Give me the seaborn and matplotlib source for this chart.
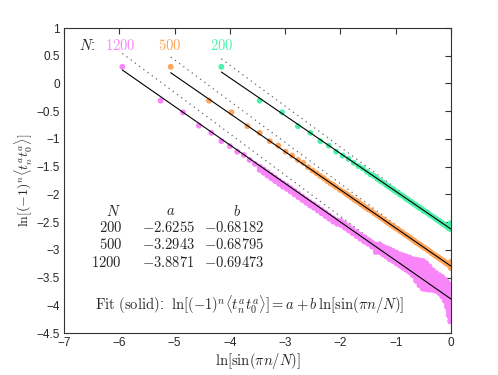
import numpy as np
import matplotlib
matplotlib.use('Agg')
import matplotlib.pyplot as plt
import seaborn as sns
import pandas as pd
from matplotlib.ticker import FuncFormatter, MultipleLocator

# fit coefficients (table in the chart)
sizes = [200, 500, 1200]
fit_a = [-2.6255, -3.2943, -3.8871]
fit_b = [-0.68182, -0.68795, -0.69473]
# slopes of the dotted reference lines (same intercept a)
dot_b = [-0.739, -0.744, -0.745]
colors = ['#4cf2ac', '#ffa458', '#f986f9']

# N = 200 : x = ln[sin(pi n/N)], y = ln[(-1)^n <t_n t_0>]
x_200 = [-4.154, -3.461, -3.055, -2.768, -2.545, -2.363, -2.210, -2.077, -1.960,
         -1.855, -1.761, -1.675, -1.596, -1.523, -1.455, -1.392, -1.332, -1.277,
         -1.224, -1.174, -1.130, -1.083, -1.040, -0.999, -0.960, -0.923, -0.888,
         -0.854, -0.822, -0.790, -0.760, -0.730, -0.702, -0.675, -0.649, -0.624,
         -0.600, -0.576, -0.553, -0.531, -0.500, -0.470, -0.441, -0.414, -0.380,
         -0.347, -0.317, -0.288, -0.261, -0.236, -0.212, -0.190, -0.169, -0.150,
         -0.132, -0.115, -0.097, -0.079, -0.064, -0.050, -0.038, -0.028, -0.020,
         -0.012, -0.007, -0.003, -0.003, -0.010, -0.006, 0.0]
y_200 = [0.30, -0.31, -0.52, -0.77, -0.89, -1.04, -1.12, -1.23, -1.30,
         -1.36, -1.43, -1.49, -1.53, -1.59, -1.64, -1.67, -1.72, -1.76,
         -1.79, -1.83, -1.86, -1.89, -1.92, -1.95, -1.97, -2.00, -2.02,
         -2.04, -2.07, -2.09, -2.11, -2.13, -2.15, -2.17, -2.18, -2.20,
         -2.22, -2.24, -2.25, -2.26, -2.29, -2.31, -2.32, -2.34, -2.37,
         -2.39, -2.41, -2.43, -2.45, -2.47, -2.48, -2.50, -2.51, -2.53,
         -2.54, -2.55, -2.56, -2.57, -2.59, -2.60, -2.60, -2.61, -2.62,
         -2.62, -2.62, -2.62, -2.58, -2.55, -2.52, -2.63]

# N = 500
x_500 = [-5.070, -4.377, -3.971, -3.684, -3.461, -3.278, -3.124, -2.991, -2.873,
         -2.768, -2.673, -2.586, -2.505, -2.432, -2.363, -2.299, -2.238, -2.182,
         -2.128, -2.077, -2.006, -1.938, -1.895, -1.855, -1.800, -1.743, -1.708,
         -1.675, -1.628, -1.581, -1.537, -1.495, -1.443, -1.392, -1.334, -1.277,
         -1.225, -1.174, -1.128, -1.083, -1.040, -0.999, -0.960, -0.923, -0.888,
         -0.854, -0.822, -0.790, -0.760, -0.730, -0.702, -0.675, -0.649, -0.624,
         -0.600, -0.576, -0.553, -0.531, -0.490, -0.450, -0.414, -0.379, -0.347,
         -0.316, -0.288, -0.261, -0.236, -0.212, -0.190, -0.169, -0.150, -0.132,
         -0.115, -0.100, -0.086, -0.073, -0.061, -0.050, -0.036, -0.024, -0.015,
         -0.008, -0.004, -0.002, 0.0]
y_500 = [0.30, -0.31, -0.52, -0.77, -0.89, -1.04, -1.12, -1.23, -1.30,
         -1.38, -1.43, -1.51, -1.57, -1.62, -1.67, -1.71, -1.76, -1.80,
         -1.83, -1.87, -1.92, -1.96, -1.99, -2.02, -2.06, -2.10, -2.12,
         -2.14, -2.18, -2.21, -2.24, -2.27, -2.30, -2.34, -2.38, -2.42,
         -2.45, -2.49, -2.52, -2.55, -2.58, -2.61, -2.63, -2.66, -2.68,
         -2.71, -2.73, -2.75, -2.77, -2.79, -2.81, -2.83, -2.85, -2.87,
         -2.88, -2.90, -2.91, -2.93, -2.96, -2.98, -3.01, -3.03, -3.06,
         -3.08, -3.10, -3.12, -3.13, -3.15, -3.17, -3.18, -3.19, -3.20,
         -3.22, -3.23, -3.24, -3.25, -3.25, -3.26, -3.27, -3.28, -3.28,
         -3.29, -3.22, -3.33, -3.29]

# N = 1200, read as columns (x, all y seen at that x)
x_1200 = [-5.945, -5.252, -4.847, -4.559, -4.336, -4.154, -4.000, -3.866, -3.748,
          -3.643, -3.548,
          -3.46, -3.39, -3.32, -3.25, -3.18, -3.11, -3.04, -2.97, -2.90, -2.83,
          -2.76, -2.69, -2.62, -2.55, -2.48, -2.41, -2.34, -2.27, -2.20, -2.13,
          -2.06, -1.99, -1.92, -1.85, -1.78, -1.71, -1.64, -1.57, -1.50, -1.43,
          -1.36, -1.29, -1.23, -1.17, -1.11, -1.05, -0.99, -0.93, -0.87, -0.81,
          -0.75, -0.69, -0.63, -0.57, -0.51, -0.45, -0.39, -0.33, -0.27, -0.21,
          -0.16, -0.11, -0.07, -0.04, -0.015, 0.0]
y_1200 = [[0.30], [-0.31], [-0.52], [-0.76], [-0.89], [-1.04], [-1.13], [-1.23], [-1.29],
          [-1.38], [-1.45],
          [-1.50, -1.56], [-1.55, -1.61], [-1.60, -1.66], [-1.65, -1.71], [-1.70, -1.76],
          [-1.75, -1.81], [-1.80, -1.86], [-1.84, -1.90], [-1.89, -1.95], [-1.94, -2.00],
          [-1.99, -2.05], [-2.04, -2.10], [-2.09, -2.15], [-2.14, -2.20], [-2.18, -2.24],
          [-2.23, -2.29], [-2.28, -2.34], [-2.33, -2.39], [-2.38, -2.44], [-2.43, -2.49],
          [-2.47, -2.53], [-2.48, -2.55], [-2.53, -2.60], [-2.58, -2.65], [-2.63, -2.70],
          [-2.68, -2.75], [-2.73, -2.80], [-2.77, -2.85], [-2.82, -2.89], [-2.87, -2.94],
          [-2.91, -2.98, -3.04],
          [-2.90, -2.97, -3.04], [-2.94, -3.01, -3.08], [-2.97, -3.04, -3.12],
          [-2.99, -3.06, -3.13, -3.17], [-3.02, -3.09, -3.16, -3.20],
          [-3.05, -3.12, -3.19, -3.24], [-3.08, -3.15, -3.22, -3.28],
          [-3.10, -3.17, -3.24, -3.32], [-3.12, -3.19, -3.26, -3.33, -3.36],
          [-3.14, -3.21, -3.28, -3.35, -3.40], [-3.17, -3.24, -3.31, -3.38, -3.46],
          [-3.18, -3.25, -3.32, -3.39, -3.46, -3.53, -3.56],
          [-3.19, -3.26, -3.33, -3.40, -3.47, -3.54, -3.61, -3.64],
          [-3.20, -3.27, -3.34, -3.41, -3.48, -3.55, -3.62, -3.70],
          [-3.24, -3.31, -3.38, -3.45, -3.52, -3.59, -3.66, -3.71],
          [-3.30, -3.37, -3.44, -3.51, -3.58, -3.65, -3.72],
          [-3.37, -3.44, -3.51, -3.58, -3.65, -3.72],
          [-3.42, -3.49, -3.56, -3.63, -3.70, -3.74],
          [-3.46, -3.53, -3.60, -3.67, -3.74, -3.78],
          [-3.49, -3.56, -3.63, -3.70, -3.77, -3.84],
          [-3.54, -3.61, -3.68, -3.75, -3.82, -3.89, -3.92],
          [-3.58, -3.65, -3.72, -3.79, -3.86, -3.93, -4.00, -4.03],
          [-3.62, -3.69, -3.76, -3.83, -3.90, -3.97, -4.04, -4.11, -4.18],
          [-3.66, -3.73, -3.80, -3.87, -3.94, -4.01, -4.08, -4.15, -4.22, -4.29],
          [-3.72, -3.80, -3.88, -3.96, -4.04, -4.12, -4.20, -4.28]]

rows = []
for xs, ys, n in [(x_200, [[v] for v in y_200], 200),
                  (x_500, [[v] for v in y_500], 500),
                  (x_1200, y_1200, 1200)]:
    for xv, col in zip(xs, ys):
        for yv in col:
            rows.append((n, xv, yv))
df = pd.DataFrame(rows, columns=['N', 'x', 'y'])

sns.set_style('white')
plt.rcParams['mathtext.fontset'] = 'cm'
plt.rcParams['font.family'] = ['Liberation Sans', 'DejaVu Sans']

fig = plt.figure(figsize=(4.98, 3.75), dpi=100)
ax = fig.add_axes([0.1285, 0.112, 0.7771, 0.8133])

# dotted reference lines
for n, a, bd in zip(sizes, fit_a, dot_b):
    x0 = df.loc[df.N == n, 'x'].min()
    xx = np.array([x0, 0.0])
    ax.plot(xx, a + bd * xx, ls=(0, (1, 3.2)), color='#666666', lw=0.9, zorder=1)

sns.scatterplot(data=df, x='x', y='y', hue='N', hue_order=sizes, palette=colors,
                s=18, linewidth=0, legend=False, ax=ax, zorder=2)

# solid fits
for n, a, b in zip(sizes, fit_a, fit_b):
    x0 = df.loc[df.N == n, 'x'].min()
    xx = np.array([x0, 0.0])
    ax.plot(xx, a + b * xx, color='black', lw=0.8, zorder=3)

ax.set_xlim(-7, 0)
ax.set_ylim(-4.5, 1)
ax.xaxis.set_major_locator(MultipleLocator(1))
ax.yaxis.set_major_locator(MultipleLocator(0.5))
fmt = FuncFormatter(lambda v, p: ('%g' % v).replace('-', '\u2212'))
ax.xaxis.set_major_formatter(fmt)
ax.yaxis.set_major_formatter(fmt)
ax.tick_params(direction='in', length=4, width=0.8, top=True, right=True,
               labelsize=8.5, color='#333333')
ax.tick_params(axis='y', pad=3)
ax.tick_params(axis='x', pad=3)
for sp in ax.spines.values():
    sp.set_color('#333333')
    sp.set_linewidth(0.8)

ax.set_xlabel(r'$\ln[\sin(\pi n/N)]$', fontsize=10.5, labelpad=1)
ax.set_ylabel(r'$\ln[(-1)^n\langle t_n^a t_0^a\rangle]$', fontsize=10, labelpad=1)

# series labels
ax.text(-6.72, 0.69, r'$N$:', fontsize=10.5, ha='left', va='center')
label_x = [-4.14, -5.08, -5.99]
for n, c, lx in zip(sizes, colors, label_x):
    ax.text(lx, 0.69, r'$\mathrm{%d}$' % n, color=c, fontsize=10.5, ha='center', va='center')

# table of fit coefficients
ty = [-2.30, -2.60, -2.91, -3.22]
ax.text(-6.11, ty[0], r'$N$', fontsize=10.5, ha='center', va='center')
ax.text(-5.08, ty[0], r'$a$', fontsize=10.5, ha='center', va='center')
ax.text(-3.87, ty[0], r'$b$', fontsize=10.5, ha='center', va='center')
for i, (n, a, b) in enumerate(zip(sizes, fit_a, fit_b)):
    ax.text(-5.95, ty[i + 1], r'$\mathrm{%d}$' % n, fontsize=10.5, ha='right', va='center')
    ax.text(-4.63, ty[i + 1], r'$%.4f$' % a, fontsize=10.5, ha='right', va='center')
    ax.text(-3.37, ty[i + 1], r'$%.5f$' % b, fontsize=10.5, ha='right', va='center')

ax.text(-3.64, -3.99, r'$\mathrm{Fit\ (solid)}$:  $\ln[(-1)^n\langle t_n^a t_0^a\rangle] = a + b\,\ln[\sin(\pi n/N)]$',
        fontsize=10.5, ha='center', va='center')

fig.savefig('out.png', dpi=100)
